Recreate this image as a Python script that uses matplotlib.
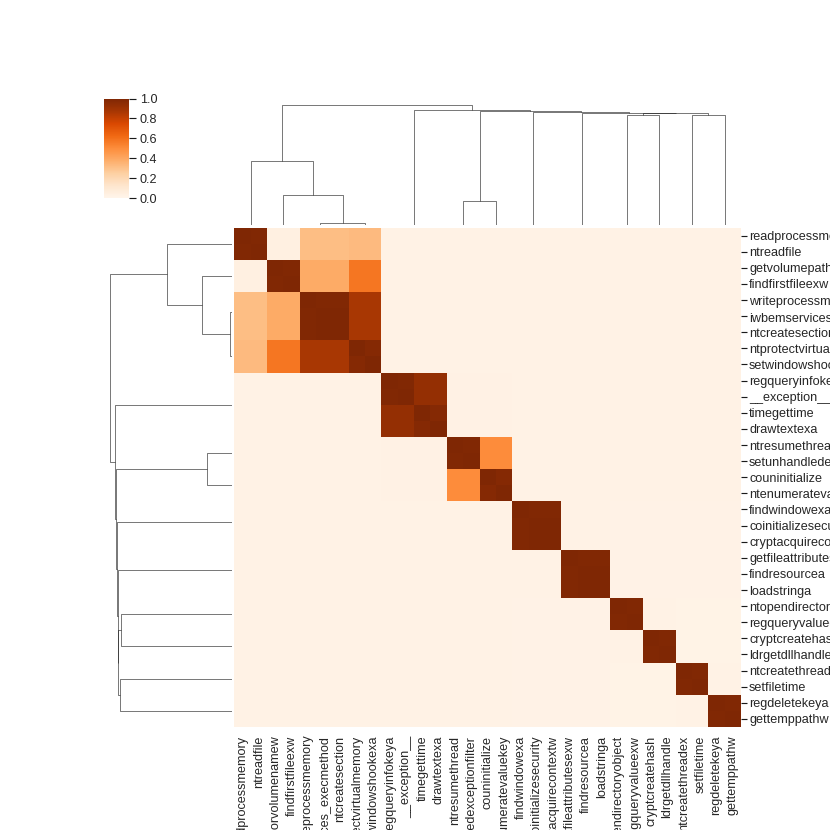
import numpy as np
import pandas as pd
import matplotlib
matplotlib.use("Agg")
import matplotlib.pyplot as plt
import seaborn as sns

# API call names, in the order they sit in the co-occurrence table
apis = [
    "readprocessmemory", "ntreadfile",
    "getvolumepathnamesforvolumenamew", "findfirstfileexw",
    "writeprocessmemory", "iwbemservices_execmethod", "ntcreatesection",
    "ntprotectvirtualmemory", "setwindowshookexa",
    "regqueryinfokeya", "__exception__",
    "timegettime", "drawtextexa",
    "ntresumethread", "setunhandledexceptionfilter",
    "couninitialize", "ntenumeratevaluekey",
    "findwindowexa", "coinitializesecurity", "cryptacquirecontextw",
    "getfileattributesexw", "findresourcea", "loadstringa",
    "ntopendirectoryobject", "regqueryvalueexw",
    "cryptcreatehash", "ldrgetdllhandle",
    "ntcreatethreadex", "setfiletime",
    "regdeletekeya", "gettemppathw",
]

# how many APIs fall in each block of the table
group_sizes = [2, 2, 3, 2, 2, 2, 2, 2, 3, 3, 2, 2, 2, 2]

# block-to-block correlation (diagonal = value inside a block)
group_corr = [
    [.99, .045, .32, .33, .03, .03, .03, .03, .03, .03, .03, .03, .03, .03],
    [.045, .99, .39, .58, .03, .03, .03, .03, .03, .03, .03, .03, .03, .03],
    [.32, .39, .99, .87, .03, .03, .03, .03, .03, .03, .03, .03, .03, .03],
    [.33, .58, .87, .98, .03, .03, .03, .03, .03, .03, .03, .03, .03, .03],
    [.03, .03, .03, .03, .99, .93, .035, .035, .03, .03, .03, .03, .03, .03],
    [.03, .03, .03, .03, .93, .98, .035, .035, .03, .03, .03, .03, .03, .03],
    [.03, .03, .03, .03, .035, .035, .99, .50, .03, .03, .03, .03, .03, .03],
    [.03, .03, .03, .03, .035, .035, .50, .98, .03, .03, .03, .03, .03, .03],
    [.03, .03, .03, .03, .03, .03, .03, .03, .99, .03, .025, .025, .025, .025],
    [.03, .03, .03, .03, .03, .03, .03, .03, .03, .99, .027, .027, .027, .027],
    [.03, .03, .03, .03, .03, .03, .03, .03, .025, .027, .99, .031, .02, .02],
    [.03, .03, .03, .03, .03, .03, .03, .03, .025, .027, .031, .99, .02, .02],
    [.03, .03, .03, .03, .03, .03, .03, .03, .025, .027, .02, .02, .99, .03],
    [.03, .03, .03, .03, .03, .03, .03, .03, .025, .027, .02, .02, .03, .99],
]

# single pairs that are a bit tighter than the rest of their block
pair_corr = [(5, 6, 1.0), (18, 19, 1.0), (21, 22, 1.0)]

sns.set_theme(style="ticks", context="notebook")
plt.rcParams["font.family"] = ["Liberation Sans", "DejaVu Sans"]

groups = np.repeat(np.arange(len(group_sizes)), group_sizes)
corr = np.array(group_corr)[np.ix_(groups, groups)]
np.fill_diagonal(corr, 1.0)
for i, j, v in pair_corr:
    corr[i, j] = corr[j, i] = v
df = pd.DataFrame(corr, index=apis, columns=apis)

g = sns.clustermap(df, method="average", metric="correlation",
                   cmap="Oranges", vmin=0, vmax=1, figsize=(10, 10),
                   tree_kws={"colors": "k", "linewidths": .5},
                   cbar_kws={"ticks": [0, .2, .4, .6, .8, 1.0]})

# old-style clustermap layout: colorbar in the top-left cell, no tight layout
gs = g.fig.add_gridspec(3, 3, width_ratios=[.04, .16, .8],
                        height_ratios=[.16, .04, .8], wspace=.01, hspace=.01,
                        left=103.5 / 830, right=741 / 830,
                        bottom=1 - 727 / 830, top=1 - 98.5 / 830)
g.ax_cbar.set_position(gs[0, 0].get_position(g.fig))
g.ax_col_dendrogram.set_position(gs[0:2, 2].get_position(g.fig))
g.ax_row_dendrogram.set_position(gs[2, 0:2].get_position(g.fig))
g.ax_heatmap.set_position(gs[2, 2].get_position(g.fig))

plt.setp(g.ax_heatmap.get_xticklabels(), rotation=90)
plt.setp(g.ax_heatmap.get_yticklabels(), rotation=0)
g.ax_heatmap.set_xlabel("")
g.ax_heatmap.set_ylabel("")
g.ax_heatmap.tick_params(axis="x", length=0, pad=7.5)
g.ax_heatmap.tick_params(axis="y", length=5, width=1, pad=2, color="k")
g.ax_cbar.tick_params(length=6.5, width=1, pad=3, color="k")

g.fig.savefig("out.png", dpi=83)
